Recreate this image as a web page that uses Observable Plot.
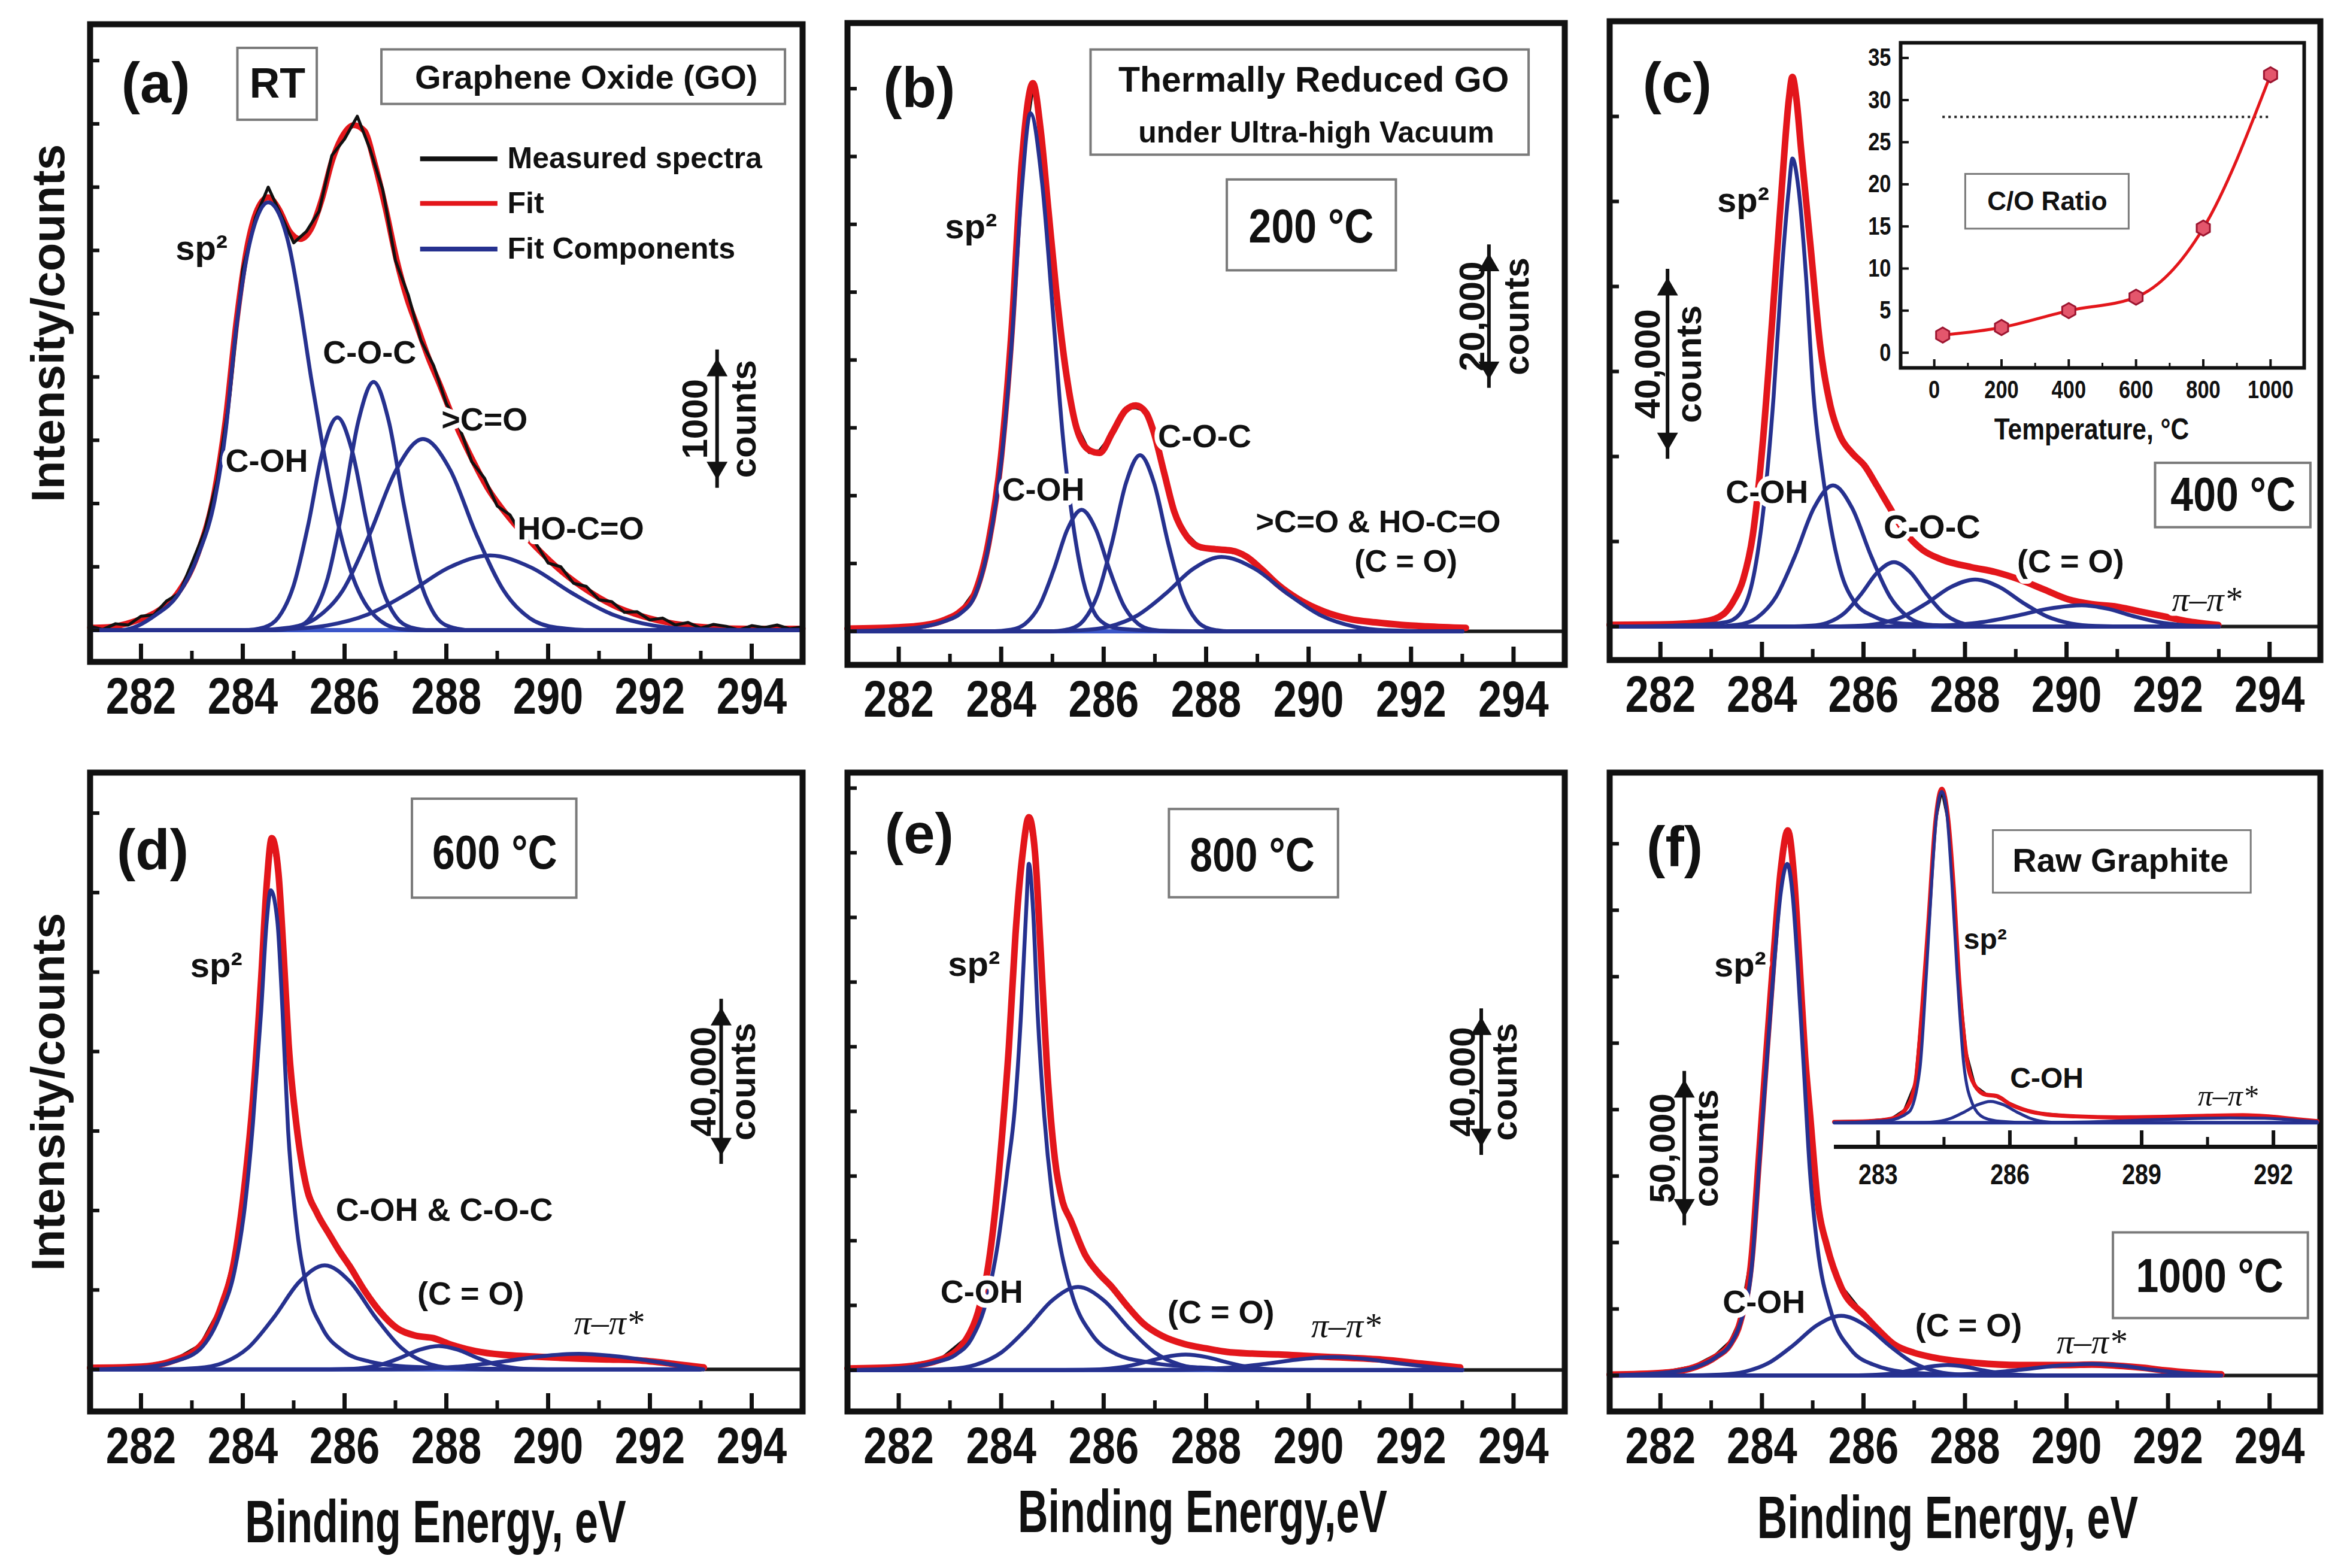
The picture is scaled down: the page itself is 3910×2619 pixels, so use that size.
<!DOCTYPE html>
<html>
<head>
<meta charset="utf-8">
<script src="https://cdn.jsdelivr.net/npm/d3@7"></script>
<script src="https://cdn.jsdelivr.net/npm/@observablehq/plot@0.6"></script>
<style>
  html, body { margin: 0; padding: 0; background: #fff; }
  #fig { position: relative; width: 3910px; height: 2619px; background: #fff; overflow: hidden; }
  #fig svg { position: absolute; }
</style>
</head>
<body>
<div id="fig"></div>
<script>
// ================= shared axis values =================
const eVDomain = [281, 295];
const xMajor = [282, 284, 286, 288, 290, 292, 294];
const xMinor = [283, 285, 287, 289, 291, 293];

// ================= (a) RT – graphene oxide =================
const aYTicks = [0, 500, 1000, 1500, 2000, 2500, 3000, 3500, 4000, 4500];
const aMeasured = [[281,30],[281.25,5],[281.5,50],[281.75,40],[282,110],[282.25,120],[282.5,230],[282.75,290],[283,530],[283.25,780],[283.5,1190],[283.75,1870],[284,2850],[284.25,3260],[284.5,3500],[284.75,3280],[285,3060],[285.25,3150],[285.5,3310],[285.75,3750],[286,3880],[286.25,4060],[286.5,3800],[286.75,3480],[287,2920],[287.25,2650],[287.5,2290],[287.75,2090],[288,1790],[288.25,1610],[288.5,1330],[288.75,1200],[289,980],[289.25,910],[289.5,740],[289.75,690],[290,530],[290.25,500],[290.5,370],[290.75,345],[291,240],[291.25,225],[291.5,140],[291.75,145],[292,80],[292.25,95],[292.5,40],[292.75,60],[293,15],[293.25,45],[293.5,30],[293.75,0],[294,35],[294.25,20],[294.5,40],[294.75,10],[295,25]];
const aFit = [[281,20],[281.35,24],[281.87,70],[282.29,141],[282.71,286],[283.13,620],[283.45,1100],[283.66,1650],[283.87,2420],[284.08,3010],[284.29,3325],[284.5,3420],[284.71,3325],[284.92,3150],[285.13,3090],[285.34,3170],[285.55,3400],[285.76,3715],[285.97,3910],[286.18,3990],[286.39,3945],[286.6,3675],[286.81,3325],[287.02,2930],[287.23,2620],[287.44,2385],[287.65,2150],[287.86,1950],[288.17,1640],[288.49,1365],[288.8,1130],[289.22,895],[289.75,660],[290.27,463],[290.8,306],[291.32,188],[291.85,110],[292.48,51],[293.1,24],[293.95,12],[295,12]];
const aSp2 = [[281,0],[281.6,0],[282.29,120],[282.71,270],[283.13,600],[283.45,1030],[283.66,1560],[283.87,2380],[284.08,2950],[284.29,3270],[284.5,3380],[284.71,3290],[284.92,3020],[285.13,2550],[285.34,2000],[285.55,1500],[285.76,1050],[285.97,680],[286.18,400],[286.39,220],[286.6,110],[286.81,45],[287.07,10],[287.4,0],[295,0]];
const aCOH = [[281,0],[284.02,0],[284.42,22],[284.71,105],[285.0,353],[285.29,840],[285.57,1413],[285.86,1680],[286.15,1413],[286.44,840],[286.72,353],[287.01,105],[287.3,22],[287.7,0],[295,0]];
const aCOC = [[281,0],[284.65,0],[285.07,26],[285.37,123],[285.67,412],[285.97,980],[286.27,1648],[286.57,1960],[286.87,1648],[287.17,980],[287.47,412],[287.77,123],[288.07,26],[288.49,0],[295,0]];
const aCO = [[281,0],[284.18,0],[284.92,20],[285.44,94],[285.97,317],[286.49,755],[287.02,1270],[287.54,1510],[288.07,1270],[288.59,755],[289.12,317],[289.64,94],[290.17,20],[290.9,0],[295,0]];
const aHOCO = [[281,0],[283.74,0],[284.86,8],[285.66,37],[286.46,124],[287.26,295],[288.06,496],[288.86,590],[289.66,496],[290.46,295],[291.26,124],[292.06,37],[292.86,8],[293.98,0],[295,0]];
const aLegend = [{label: "Measured spectra", y: 3724, key: "measured"}, {label: "Fit", y: 3371, key: "fit"}, {label: "Fit Components", y: 3011, key: "comp"}];
const aLabels = [
  {text: "(a)", x: 282.29, y: 4312, size: 94, halo: 0},
  {text: "RT", x: 284.68, y: 4312, size: 70, halo: 0},
  {text: "Graphene Oxide (GO)", x: 290.75, y: 4363, size: 56, halo: 0},
  {text: "sp²", x: 283.19, y: 3011, size: 58},
  {text: "C-OH", x: 284.47, y: 1333, size: 54},
  {text: "C-O-C", x: 286.49, y: 2187, size: 54},
  {text: ">C=O", x: 288.75, y: 1658, size: 54},
  {text: "HO-C=O", x: 290.64, y: 796, size: 54}
];
const aBoxes = [{x1: 283.9, x2: 285.46, y1: 4030, y2: 4598}, {x1: 286.73, x2: 294.66, y1: 4155, y2: 4586}];
const aBar = {x: 293.32, y1: 1188, y2: 2148, value: "1000", valueX: 292.9, unitX: 293.85};

// ================= (b) 200 °C =================
const bYTicks = [0, 10000, 20000, 30000, 40000, 50000, 60000, 70000, 80000];
const bMeasured = [[281,350],[282,650],[282.5,870],[282.9,1750],[283.2,2850],[283.5,6000],[283.75,12800],[284.0,26300],[284.2,43600],[284.4,69400],[284.62,80500],[284.77,74300],[284.92,61800],[285.07,50900],[285.27,37600],[285.47,30300],[285.72,26400],[285.92,26600],[286.17,29000],[286.43,32900],[286.63,33000],[286.83,32500],[286.98,29000],[287.18,23700],[287.38,17300],[287.63,14200],[287.89,12200],[288.19,12300],[288.49,11700],[288.79,11200],[289.09,8900],[289.39,7100],[289.8,4600],[290.3,3050],[290.8,1750],[291.31,1400],[291.81,900],[292.31,780],[293.07,450]];
const bFit = [[281,400],[282,600],[282.5,900],[282.9,1700],[283.2,2900],[283.5,5900],[283.75,13000],[284.0,26000],[284.2,44000],[284.4,69000],[284.62,80800],[284.77,73900],[284.92,62200],[285.07,50500],[285.27,38000],[285.47,30000],[285.72,26700],[285.92,26300],[286.17,29300],[286.43,32600],[286.63,33300],[286.83,32200],[286.98,29300],[287.18,23400],[287.38,17600],[287.63,13900],[287.89,12400],[288.19,12100],[288.49,11900],[288.79,11000],[289.09,9100],[289.39,6950],[289.8,4750],[290.3,2930],[290.8,1830],[291.31,1320],[291.81,950],[292.31,730],[293.07,500]];
const bSp2 = [[281,0],[282,300],[282.5,700],[282.9,1500],[283.2,2600],[283.5,5500],[283.75,12500],[284.0,25000],[284.2,42000],[284.4,65000],[284.57,76400],[284.8,66000],[285.0,48000],[285.2,29000],[285.4,16000],[285.6,7500],[285.8,3000],[286.0,1200],[286.3,400],[287,100],[288,0],[293,0]];
const bCOH = [[281,0],[283.81,0],[284.195,237],[284.47,1120],[284.745,3763],[285.02,8960],[285.295,15070],[285.57,17920],[285.845,15070],[286.12,8960],[286.395,3763],[286.67,1120],[286.945,237],[287.33,0],[293,0]];
const bCOC = [[281,0],[284.95,0],[285.335,343],[285.61,1623],[285.885,5454],[286.16,12985],[286.435,21840],[286.71,25970],[286.985,21840],[287.26,12985],[287.535,5454],[287.81,1623],[288.085,343],[288.47,0],[293,0]];
const bCO = [[281,0],[284.78,0],[285.55,145],[286.1,686],[286.65,2304],[287.2,5485],[287.75,9226],[288.3,10970],[288.95,9226],[289.6,5485],[290.25,2304],[290.9,686],[291.55,145],[292.46,0],[293,0]];
const bLabels = [
  {text: "(b)", x: 282.4, y: 79950, size: 94, halo: 0},
  {text: "Thermally Reduced GO", x: 290.1, y: 81200, size: 59, halo: 0},
  {text: "under Ultra-high Vacuum", x: 290.15, y: 73520, size: 50, halo: 0},
  {text: "200 °C", x: 290.05, y: 59620, size: 80, halo: 0},
  {text: "sp²", x: 283.41, y: 59620, size: 58},
  {text: "C-OH", x: 284.82, y: 20850, size: 54},
  {text: "C-O-C", x: 287.97, y: 28675, size: 54},
  {text: ">C=O & HO-C=O", x: 291.36, y: 16090, size: 52},
  {text: "(C = O)", x: 291.9, y: 10240, size: 52}
];
const bBoxes = [{x1: 285.75, x2: 294.3, y1: 70224, y2: 85730}, {x1: 288.41, x2: 291.71, y1: 53180, y2: 66570}];
const bBar = {x: 293.52, y1: 37100, y2: 55750, value: "20,000", valueX: 293.2, unitX: 294.07};

// ================= (c) 400 °C =================
const cYTicks = [0, 20000, 40000, 60000, 80000, 100000, 120000];
const cMeasured = [[281,350],[282,520],[282.5,680],[282.86,1200],[283.24,2800],[283.43,5900],[283.63,11200],[283.82,21300],[284.01,42800],[284.2,71300],[284.39,103500],[284.53,123600],[284.6,129000],[284.68,124300],[284.77,112000],[284.96,89500],[285.15,65500],[285.35,52100],[285.54,44600],[285.78,41000],[286.02,37600],[286.26,33400],[286.49,28300],[286.8,22700],[287.16,17900],[287.55,15900],[288.12,13800],[288.6,12950],[289.07,10900],[289.55,8850],[290.03,6300],[290.51,5350],[290.99,4550],[291.46,3600],[291.94,2250],[292.42,1250],[292.99,300]];
const cFit = [[281,400],[282,500],[282.5,700],[282.86,1165],[283.24,2900],[283.43,5825],[283.63,11070],[283.82,21550],[284.01,42520],[284.2,71650],[284.39,103100],[284.53,124000],[284.6,129300],[284.68,124000],[284.77,112400],[284.96,89100],[285.15,65800],[285.35,51840],[285.54,44850],[285.78,40770],[286.02,37860],[286.26,33200],[286.49,28540],[286.8,22500],[287.16,18060],[287.55,15730],[288.12,13980],[288.6,12815],[289.07,11070],[289.55,8740],[290.03,6400],[290.51,5240],[290.99,4660],[291.46,3500],[291.94,2330],[292.42,1165],[292.99,350]];
const cSp2 = [[281,0],[282.5,300],[283.0,600],[283.34,1165],[283.63,4080],[283.86,13400],[284.06,30870],[284.23,54170],[284.39,83300],[284.53,103100],[284.6,110100],[284.72,103100],[284.87,82130],[285.01,55340],[285.2,35530],[285.35,23880],[285.54,13400],[285.82,5825],[286.21,2330],[286.68,815],[287.64,230],[289,0],[293,0]];
const cCOH = [[281,0],[283.0,0],[283.525,438],[283.9,2075],[284.275,6972],[284.65,16600],[285.025,27920],[285.4,33200],[285.775,27920],[286.15,16600],[286.525,6972],[286.9,2075],[287.275,438],[287.8,0],[293,0]];
const cCOC = [[281,0],[284.52,0],[284.975,200],[285.3,947],[285.625,3182],[285.95,7575],[286.275,12740],[286.6,15150],[286.925,12740],[287.25,7575],[287.575,3182],[287.9,947],[288.225,200],[288.68,0],[293,0]];
const cCO = [[281,0],[285.16,0],[285.825,146],[286.3,692],[286.775,2325],[287.25,5535],[287.725,9310],[288.2,11070],[288.675,9310],[289.15,5535],[289.625,2325],[290.1,692],[290.575,146],[291.24,0],[293,0]];
const cPi = [[281,0],[286.14,0],[287.05,66],[287.7,313],[288.35,1050],[289.0,2500],[289.65,4205],[290.3,5000],[290.8,4205],[291.3,2500],[291.8,1050],[292.3,313],[292.8,66],[293,0]];
const cLabels = [
  {text: "(c)", x: 282.33, y: 127570, size: 94, halo: 0},
  {text: "sp²", x: 283.63, y: 100190, size: 58},
  {text: "C-OH", x: 284.1, y: 31455, size: 54},
  {text: "C-O-C", x: 287.35, y: 23300, size: 56},
  {text: "(C = O)", x: 290.08, y: 15145, size: 54},
  {text: "π–π*", x: 292.76, y: 6400, size: 58, serif: true},
  {text: "400 °C", x: 293.28, y: 30870, size: 80, halo: 0}
];
const cBoxes = [{x1: 291.75, x2: 294.81, y1: 23300, y2: 38445}];
const cBar = {x: 282.14, y1: 41360, y2: 82130, value: "40,000", valueX: 281.76, unitX: 282.57};

// inset of (c): C/O ratio vs annealing temperature
const coTemp = [25, 200, 400, 600, 800, 1000];
const coRatio = [2.1, 3.0, 5.0, 6.6, 14.8, 33.0];
const graphiteRef = {ratio: 28, from: 25, to: 1000};
const coXMajor = [0, 200, 400, 600, 800, 1000];
const coXMinor = [100, 300, 500, 700, 900];
const coYTicks = [0, 5, 10, 15, 20, 25, 30, 35];
const coBox = {x1: 93, x2: 579, y1: 14.7, y2: 21.2, label: "C/O Ratio", x: 336, y: 17.9};

// ================= (d) 600 °C =================
const dYTicks = [0, 20000, 40000, 60000, 80000, 100000, 120000, 140000];
const dMeasured = [[281,380],[282,720],[282.65,2250],[283.17,6100],[283.58,15800],[283.84,28300],[284.05,47700],[284.2,68300],[284.36,97700],[284.47,122300],[284.57,133400],[284.7,125300],[284.8,104700],[284.9,82300],[285.05,61700],[285.25,46300],[285.46,39000],[285.7,34300],[285.88,29900],[286.1,26200],[286.4,19500],[286.7,14700],[287.02,10300],[287.4,8650],[287.75,7750],[288.1,6300],[288.58,4500],[289.1,3800],[289.63,3200],[290.2,3050],[290.67,2650],[291.2,2550],[291.7,2300],[292.4,1550],[293.06,450]];
const dFit = [[281,400],[282,700],[282.65,2300],[283.17,6000],[283.58,16000],[283.84,28000],[284.05,48000],[284.2,68000],[284.36,98000],[284.47,122000],[284.57,133700],[284.7,125000],[284.8,105000],[284.9,82000],[285.05,62000],[285.25,46000],[285.46,39300],[285.7,34000],[285.88,30150],[286.1,26000],[286.4,19700],[286.7,14500],[287.02,10490],[287.4,8500],[287.75,7870],[288.1,6200],[288.58,4600],[289.1,3700],[289.63,3280],[290.2,2950],[290.67,2700],[291.2,2500],[291.7,2360],[292.4,1500],[293.06,500]];
const dSp2 = [[281,0],[282,500],[282.65,1970],[283.17,5240],[283.58,14420],[283.84,24900],[284.05,42000],[284.2,62000],[284.36,90000],[284.47,112750],[284.55,120600],[284.68,112750],[284.78,90460],[284.89,60300],[285.04,38020],[285.25,20980],[285.56,10490],[285.98,4590],[286.5,1970],[287.33,660],[288.58,260],[290,0],[293,0]];
const dCOH = [[281,0],[282.41,0],[283.11,346],[283.61,1638],[284.11,5502],[284.61,13100],[285.11,22030],[285.61,26200],[286.11,22030],[286.61,13100],[287.11,5502],[287.61,1638],[288.11,346],[288.81,0],[293,0]];
const dCO = [[281,0],[285.45,0],[285.975,78],[286.35,369],[286.725,1239],[287.1,2950],[287.475,4962],[287.85,5900],[288.225,4962],[288.6,2950],[288.975,1239],[289.35,369],[289.725,78],[290.25,0],[293,0]];
const dPi = [[281,0],[285.8,0],[286.85,52],[287.6,246],[288.35,825],[289.1,1965],[289.85,3305],[290.6,3930],[291.35,3305],[292.1,1965],[292.6,900],[293.05,0]];
const dLabels = [
  {text: "(d)", x: 282.23, y: 130440, size: 94, halo: 0},
  {text: "600 °C", x: 288.95, y: 129800, size: 80, halo: 0},
  {text: "sp²", x: 283.48, y: 101600, size: 58},
  {text: "C-OH & C-O-C", x: 287.96, y: 40000, size: 54},
  {text: "(C = O)", x: 288.48, y: 19000, size: 54},
  {text: "π–π*", x: 291.19, y: 11800, size: 58, serif: true}
];
const dBoxes = [{x1: 287.33, x2: 290.56, y1: 118650, y2: 143550}];
const dBar = {x: 293.4, y1: 53750, y2: 91100, value: "40,000", valueX: 293.06, unitX: 293.84};

// ================= (e) 800 °C =================
const eYTicks = [0, 20000, 40000, 60000, 80000, 100000, 120000, 140000, 160000, 180000];
const eMeasured = [[281,480],[282,920],[282.81,3150],[283.32,9800],[283.55,17800],[283.73,30700],[283.9,51700],[284.03,75300],[284.15,99700],[284.28,135200],[284.42,159700],[284.54,170700],[284.66,160300],[284.77,129700],[284.89,95000],[285.05,64700],[285.2,52300],[285.35,46300],[285.65,35600],[285.9,29800],[286.16,25900],[286.45,19800],[286.77,14600],[287.15,10300],[287.58,8150],[288.0,6600],[288.4,5700],[288.9,5000],[289.41,4900],[289.9,4300],[290.43,4100],[290.9,3600],[291.44,3300],[292.2,1950],[292.96,850]];
const eFit = [[281,500],[282,900],[282.81,3210],[283.32,9640],[283.55,18000],[283.73,30500],[283.9,52000],[284.03,75000],[284.15,100000],[284.28,134900],[284.42,160000],[284.54,171000],[284.66,160000],[284.77,130000],[284.89,94750],[285.05,65000],[285.2,52000],[285.35,46600],[285.65,35330],[285.9,30000],[286.16,25700],[286.45,20000],[286.77,14450],[287.15,10500],[287.58,8030],[288.0,6700],[288.4,5620],[288.9,5100],[289.41,4820],[289.9,4400],[290.43,4015],[290.9,3700],[291.44,3210],[292.2,2000],[292.96,800]];
const eSp2 = [[281,0],[282,600],[282.71,2400],[283.12,4820],[283.42,9640],[283.73,22480],[283.93,38540],[284.13,62630],[284.26,80000],[284.39,110800],[284.49,142900],[284.54,156600],[284.62,142900],[284.71,110800],[284.84,78700],[284.99,54600],[285.15,38540],[285.4,22480],[285.76,11240],[286.26,4820],[286.87,2400],[287.89,800],[289.5,0],[293,0]];
const eCOH = [[281,0],[282.3,0],[283.0,339],[283.5,1606],[284.0,5397],[284.5,12850],[285.0,21610],[285.5,25700],[286.0,21610],[286.5,12850],[287.0,5397],[287.5,1606],[288.0,339],[288.7,0],[293,0]];
const eCO = [[281,0],[285.04,0],[285.6,63],[286.0,300],[286.4,1008],[286.8,2400],[287.2,4037],[287.6,4800],[288.0,4037],[288.4,2400],[288.8,1008],[289.2,300],[289.6,63],[290.16,0],[293,0]];
const ePi = [[281,0],[286.34,0],[287.25,53],[287.9,250],[288.55,840],[289.2,2000],[289.85,3364],[290.5,4000],[291.15,3364],[291.8,2000],[292.45,840],[293,0]];
const eLabels = [
  {text: "(e)", x: 282.4, y: 165400, size: 94, halo: 0},
  {text: "800 °C", x: 288.9, y: 159000, size: 80, halo: 0},
  {text: "sp²", x: 283.47, y: 125270, size: 58},
  {text: "C-OH", x: 283.62, y: 24090, size: 54},
  {text: "(C = O)", x: 288.29, y: 17670, size: 54},
  {text: "π–π*", x: 290.73, y: 13650, size: 58, serif: true}
];
const eBoxes = [{x1: 287.28, x2: 290.58, y1: 146150, y2: 173450}];
const eBar = {x: 293.37, y1: 69060, y2: 109200, value: "40,000", valueX: 293.02, unitX: 293.83};

// ================= (f) 1000 °C =================
const fYTicks = [0, 25000, 50000, 75000, 100000, 125000, 150000, 175000, 200000];
const fMeasured = [[281,350],[282.05,1150],[282.66,3300],[283.09,7600],[283.38,12700],[283.57,20600],[283.8,45300],[283.94,81700],[284.09,122300],[284.23,157700],[284.37,190300],[284.51,204700],[284.63,188300],[284.74,154700],[284.85,120300],[284.95,97300],[285.1,65300],[285.28,48500],[285.56,33500],[286.03,22200],[286.3,17200],[286.6,11600],[287.0,8600],[287.36,6750],[288.12,4950],[289.07,3850],[290.02,3950],[290.5,4050],[290.97,3750],[291.5,2850],[291.92,2000],[292.5,950],[293.05,450]];
const fFit = [[281,300],[282.05,1000],[282.66,3000],[283.09,7000],[283.38,12000],[283.57,20000],[283.8,45000],[283.94,82000],[284.09,122000],[284.23,158000],[284.37,190000],[284.51,205000],[284.63,188000],[284.74,155000],[284.85,120000],[284.95,97650],[285.1,65000],[285.28,48800],[285.56,33200],[286.03,22460],[286.3,17000],[286.6,11720],[287.0,8500],[287.36,6840],[288.12,4880],[289.07,3900],[290.02,3900],[290.5,4100],[290.97,3700],[291.5,2900],[291.92,1950],[292.5,1000],[293.05,400]];
const fSp2 = [[281,0],[282.05,980],[282.66,2930],[283.09,6840],[283.38,11720],[283.57,19530],[283.8,41000],[283.94,78100],[284.09,117200],[284.23,152300],[284.37,181600],[284.5,192400],[284.61,179700],[284.71,152300],[284.82,117200],[284.94,78100],[285.09,48800],[285.37,23440],[285.75,9765],[286.22,3900],[286.98,980],[288.5,0],[293,0]];
const fCOH = [[281,0],[282.52,0],[283.185,296],[283.66,1404],[284.135,4717],[284.61,11230],[285.085,18890],[285.56,22460],[286.035,18890],[286.51,11230],[286.985,4717],[287.46,1404],[287.935,296],[288.6,0],[293,0]];
const fCO = [[281,0],[285.41,0],[285.9,51],[286.25,244],[286.6,819],[286.95,1950],[287.3,3280],[287.65,3900],[288.0,3280],[288.35,1950],[288.7,819],[289.05,244],[289.4,51],[289.89,0],[293,0]];
const fPi = [[281,0],[286.02,0],[287.0,57],[287.7,269],[288.4,903],[289.1,2150],[289.8,3616],[290.5,4300],[291.1,3616],[291.7,2150],[292.3,903],[293.05,0]];
const fLabels = [
  {text: "(f)", x: 282.28, y: 198230, size: 94, halo: 0},
  {text: "sp²", x: 283.57, y: 154300, size: 58},
  {text: "C-OH", x: 284.04, y: 27340, size: 54},
  {text: "(C = O)", x: 288.07, y: 18550, size: 54},
  {text: "π–π*", x: 290.49, y: 12700, size: 58, serif: true},
  {text: "1000 °C", x: 292.82, y: 37100, size: 80, halo: 0}
];
const fBoxes = [{x1: 290.92, x2: 294.76, y1: 21480, y2: 53700}];
const fBar = {x: 282.47, y1: 59570, y2: 111300, value: "50,000", valueX: 282.05, unitX: 282.9};

// inset of (f): raw graphite
const gDomain = [282, 293];
const gMajor = [283, 286, 289, 292];
const gMinor = [284.5, 287.5, 290.5];
const gMeasured = [[282,4],[282.8,7],[283.3,14],[283.6,47],[283.85,148],[284.0,425],[284.15,755],[284.3,1125],[284.45,1248],[284.6,1127],[284.72,884],[284.85,516],[285.0,263],[285.2,138],[285.45,107],[285.7,98],[286.0,72],[286.4,44],[286.8,33],[287.5,23],[288.5,21],[289.5,21],[290.5,27],[291.3,27],[292.0,23],[292.6,11],[293.0,7]];
const gFit = [[282,3],[282.8,6],[283.3,15],[283.6,45],[283.85,150],[284.0,420],[284.15,760],[284.3,1120],[284.45,1250],[284.6,1130],[284.72,880],[284.85,520],[285.0,260],[285.2,140],[285.45,105],[285.7,100],[286.0,70],[286.4,45],[286.8,32],[287.5,24],[288.5,20],[289.5,22],[290.5,26],[291.3,28],[292.0,22],[292.6,12],[293.0,6]];
const gSp2 = [[282,0],[283.2,8],[283.7,40],[283.95,200],[284.1,560],[284.22,900],[284.33,1150],[284.45,1240],[284.57,1150],[284.68,900],[284.8,560],[284.95,220],[285.15,70],[285.4,20],[285.8,5],[286.5,0],[293,0]];
const gCOH = [[282,0],[283.64,0],[284.06,1],[284.36,5],[284.66,17],[284.96,40],[285.26,67],[285.56,80],[285.86,67],[286.16,40],[286.46,17],[286.76,5],[287.06,1],[287.48,0],[293,0]];
const gPi = [[282,0],[286.5,0],[288.0,4],[289.0,10],[290.0,15],[291.0,18],[291.8,17],[292.5,10],[293.0,4]];
const gLabels = [
  {text: "Raw Graphite", x: 288.52, y: 980, size: 56, halo: 0},
  {text: "sp²", x: 285.44, y: 685, size: 48},
  {text: "C-OH", x: 286.84, y: 165, size: 48},
  {text: "π–π*", x: 290.96, y: 100, size: 50, serif: true}
];
const gBoxes = [{x1: 285.62, x2: 291.49, y1: 860, y2: 1094}];

// ================= styling =================
const RED = "#e3161b", NAVY = "#26318f", BASEBLUE = "#3b56c9", INK = "#111111", BOXGRAY = "#7a7a7a";
const SANS = "'Liberation Sans', Arial, Helvetica, sans-serif";
const SERIF = "'Liberation Serif', 'Times New Roman', serif";
const fig = document.getElementById("fig");

function curveLine(data, stroke, width, extra = {}) {
  return Plot.line(data, {x: d => d[0], y: d => d[1], stroke, strokeWidth: width, curve: "monotone-x",
    strokeLinejoin: "round", strokeLinecap: "round", ...extra});
}
function labelMarks(labels) {
  return labels.map(l => {
    const o = {x: "x", y: "y", text: "text", fontSize: l.size, fill: INK, lineAnchor: "middle", textAnchor: "middle",
      fontWeight: l.serif ? "normal" : "bold", fontFamily: l.serif ? SERIF : SANS, fontStyle: l.serif ? "italic" : "normal"};
    if (l.halo !== 0) { o.stroke = "white"; o.strokeWidth = l.halo || 16; o.paintOrder = "stroke"; }
    return Plot.text([l], o);
  });
}
function boxMarks(boxes, w = 4) {
  return [Plot.rect(boxes, {x1: "x1", x2: "x2", y1: "y1", y2: "y2", fill: "white", stroke: BOXGRAY, strokeWidth: w})];
}
function narrow(svg, map) {
  svg.querySelectorAll("text").forEach(t => {
    const s = map.get(t.textContent);
    const tr = t.getAttribute("transform") || "";
    if (s && !/rotate/.test(tr)) t.setAttribute("transform", tr + ` scale(${s},1)`);
  });
}
const MAIN_SX = new Map([
  ...xMajor.map(v => [String(v), 0.82]),
  ["Binding Energy, eV", 0.7], ["Binding Energy,eV", 0.7],
  ["200 °C", 0.85], ["400 °C", 0.85], ["600 °C", 0.85], ["800 °C", 0.85], ["1000 °C", 0.85]
]);
function place(svg, left, top) {
  svg.style.left = left + "px";
  svg.style.top = top + "px";
  fig.appendChild(svg);
}

function drawPanel(p) {
  const [L, T, R, B] = p.frame;
  const W = R - L, H = B - T;
  const M = {l: 160, r: 16, t: 16, b: 260};
  const marks = [];
  marks.push(Plot.ruleY([0], {stroke: "#1a1a1a", strokeWidth: 6}));
  marks.push(Plot.ruleY([0], {x1: 281, x2: p.baseEnd, stroke: BASEBLUE, strokeWidth: 7}));
  if (!p.measuredOnTop) marks.push(curveLine(p.measured, INK, 6, {curve: "linear"}));
  marks.push(curveLine(p.fit, RED, p.fitWidth || 11));
  if (p.measuredOnTop) marks.push(curveLine(p.measured, INK, 5, {curve: "linear"}));
  for (const c of p.components) marks.push(curveLine(c, NAVY, 6.5));
  if (p.legend) {
    const lx1 = 287.49, lx2 = 289.01, tx = 289.2;
    const col = {measured: INK, fit: RED, comp: NAVY};
    for (const it of p.legend) {
      marks.push(Plot.ruleY([it], {y: "y", x1: lx1, x2: lx2, stroke: col[it.key], strokeWidth: 8}));
      marks.push(Plot.text([it], {x: tx, y: "y", text: "label", textAnchor: "start", lineAnchor: "middle",
        fontSize: 50, fontWeight: "bold", fill: INK}));
    }
  }
  marks.push(...boxMarks(p.boxes));
  marks.push(...labelMarks(p.labels));
  // scale bar (double arrow): shaft + filled heads whose tips sit on the ends
  const b = p.bar, mid = (b.y1 + b.y2) / 2;
  marks.push(Plot.ruleX([b], {x: "x", y1: "y1", y2: "y2", stroke: INK, strokeWidth: 6, insetTop: 14, insetBottom: 14}));
  marks.push(Plot.dot([b], {x: "x", y: "y2", symbol: "triangle", r: 13, fill: INK, stroke: "none", dy: 20}));
  marks.push(Plot.dot([b], {x: "x", y: "y1", symbol: "triangle", r: 13, fill: INK, stroke: "none", rotate: 180, dy: -20}));
  marks.push(Plot.text([b], {x: "valueX", y: () => mid, text: "value", rotate: -90, fontSize: 60, fontWeight: "bold", fill: INK, lineAnchor: "middle", textAnchor: "middle"}));
  marks.push(Plot.text([b], {x: "unitX", y: () => mid, text: () => "counts", rotate: -90, fontSize: 60, fontWeight: "bold", fill: INK, lineAnchor: "middle", textAnchor: "middle"}));
  // ticks (inward) + frame
  marks.push(Plot.ruleX(xMajor, {x: d => d, insetTop: H - 30, stroke: INK, strokeWidth: 7}));
  marks.push(Plot.ruleX(xMinor, {x: d => d, insetTop: H - 18, stroke: INK, strokeWidth: 6}));
  marks.push(Plot.ruleY(p.yTicks, {y: d => d, insetRight: W - 16, stroke: INK, strokeWidth: 6}));
  marks.push(Plot.frame({stroke: INK, strokeWidth: 10}));
  marks.push(Plot.text(xMajor, {x: d => d, text: d => String(d), frameAnchor: "bottom", dy: 59, lineAnchor: "middle",
    textAnchor: "middle", fontSize: 86, fontWeight: "bold", fill: INK}));
  if (p.yTitle) marks.push(Plot.text(["Intensity/counts"], {frameAnchor: "left", dx: -68, dy: p.yTitleDy, rotate: -90,
    lineAnchor: "middle", textAnchor: "middle", fontSize: 78, fontWeight: "bold", fill: INK}));
  if (p.xTitle) marks.push(Plot.text([p.xTitle], {frameAnchor: "bottom", dx: p.xTitleDx, dy: p.xTitleDy, lineAnchor: "middle",
    textAnchor: "middle", fontSize: 100, fontWeight: "bold", fill: INK}));
  const svg = Plot.plot({
    width: W + M.l + M.r, height: H + M.t + M.b,
    marginLeft: M.l, marginRight: M.r, marginTop: M.t, marginBottom: M.b,
    x: {domain: eVDomain, axis: null}, y: {domain: p.y, axis: null},
    style: {background: "transparent", overflow: "visible", fontFamily: SANS, maxWidth: "none"},
    marks
  });
  narrow(svg, MAIN_SX);
  place(svg, L - M.l, T - M.t);
}

const panels = [
  {frame: [150, 40, 1340, 1105], y: [-251, 4787], yTicks: aYTicks, baseEnd: 295, measured: aMeasured, measuredOnTop: true,
   fit: aFit, fitWidth: 10, components: [aSp2, aCOH, aCOC, aCO, aHOCO], labels: aLabels, boxes: aBoxes, bar: aBar,
   legend: aLegend, yTitle: true, yTitleDy: -33},
  {frame: [1415, 38, 2613, 1110], y: [-4943, 89674], yTicks: bYTicks, baseEnd: 293, measured: bMeasured,
   fit: bFit, components: [bSp2, bCOH, bCOC, bCO], labels: bLabels, boxes: bBoxes, bar: bBar},
  {frame: [2688, 35, 3875, 1102], y: [-7887, 142394], yTicks: cYTicks, baseEnd: 293, measured: cMeasured,
   fit: cFit, components: [cSp2, cCOH, cCOC, cCO, cPi], labels: cLabels, boxes: cBoxes, bar: cBar},
  {frame: [150, 1290, 1340, 2357], y: [-10566, 150189], yTicks: dYTicks, baseEnd: 293, measured: dMeasured,
   fit: dFit, components: [dSp2, dCOH, dCO, dPi], labels: dLabels, boxes: dBoxes, bar: dBar,
   yTitle: true, yTitleDy: 0, xTitle: "Binding Energy, eV", xTitleDx: -18, xTitleDy: 186},
  {frame: [1415, 1290, 2613, 2357], y: [-12801, 184787], yTicks: eYTicks, baseEnd: 293, measured: eMeasured,
   fit: eFit, components: [eSp2, eCOH, eCO, ePi], labels: eLabels, boxes: eBoxes, bar: eBar,
   xTitle: "Binding Energy,eV", xTitleDx: -6, xTitleDy: 169},
  {frame: [2688, 1290, 3875, 2357], y: [-13538, 226760], yTicks: fYTicks, baseEnd: 293, measured: fMeasured,
   fit: fFit, components: [fSp2, fCOH, fCO, fPi], labels: fLabels, boxes: fBoxes, bar: fBar,
   xTitle: "Binding Energy, eV", xTitleDx: -29, xTitleDy: 179}
];
panels.forEach(drawPanel);

// ---------- inset (c): C/O ratio ----------
(function () {
  const [L, T, R, B] = [3174, 71, 3848, 614];
  const W = R - L, H = B - T;
  const M = {l: 90, r: 12, t: 12, b: 140};
  const co = coTemp.map((t, i) => ({temp: t, ratio: coRatio[i]}));
  const svg = Plot.plot({
    width: W + M.l + M.r, height: H + M.t + M.b,
    marginLeft: M.l, marginRight: M.r, marginTop: M.t, marginBottom: M.b,
    x: {domain: [-100, 1100], axis: null}, y: {domain: [-1.8, 36.8], axis: null},
    style: {background: "transparent", overflow: "visible", fontFamily: SANS, maxWidth: "none"},
    marks: [
      Plot.ruleY([graphiteRef], {y: "ratio", x1: "from", x2: "to", stroke: "#222", strokeWidth: 4, strokeDasharray: "4,6"}),
      Plot.line(co, {x: "temp", y: "ratio", curve: "monotone-x", stroke: RED, strokeWidth: 5}),
      Plot.dot(co, {x: "temp", y: "ratio", symbol: "hexagon", r: 11, fill: "#e4566c", stroke: "#9c1530", strokeWidth: 3}),
      Plot.rect([coBox], {x1: "x1", x2: "x2", y1: "y1", y2: "y2", fill: "white", stroke: BOXGRAY, strokeWidth: 3}),
      Plot.text([coBox], {x: "x", y: "y", text: "label", fontSize: 44, fontWeight: "bold", fill: INK, lineAnchor: "middle"}),
      Plot.ruleX(coXMajor, {x: d => d, insetTop: H - 14, stroke: INK, strokeWidth: 4}),
      Plot.ruleX(coXMinor, {x: d => d, insetTop: H - 8, stroke: INK, strokeWidth: 3}),
      Plot.ruleY(coYTicks, {y: d => d, insetRight: W - 14, stroke: INK, strokeWidth: 4}),
      Plot.frame({stroke: INK, strokeWidth: 6}),
      Plot.text(coYTicks, {y: d => d, text: d => String(d), frameAnchor: "left", dx: -16, textAnchor: "end", lineAnchor: "middle",
        fontSize: 42, fontWeight: "bold", fill: INK}),
      Plot.text(coXMajor, {x: d => d, text: d => String(d), frameAnchor: "bottom", dy: 37, lineAnchor: "middle",
        textAnchor: "middle", fontSize: 42, fontWeight: "bold", fill: INK}),
      Plot.text(["Temperature, °C"], {frameAnchor: "bottom", dx: -18, dy: 103, lineAnchor: "middle",
        textAnchor: "middle", fontSize: 50, fontWeight: "bold", fill: INK})
    ]
  });
  narrow(svg, new Map([...coYTicks.map(v => [String(v), 0.82]), ...coXMajor.map(v => [String(v), 0.82]), ["Temperature, °C", 0.85]]));
  place(svg, L - M.l, T - M.t);
})();

// ---------- inset (f): raw graphite ----------
(function () {
  const [L, T, R, B] = [3063, 1300, 3870, 1915];
  const W = R - L, H = B - T;
  const M = {l: 12, r: 12, t: 12, b: 100};
  const svg = Plot.plot({
    width: W + M.l + M.r, height: H + M.t + M.b,
    marginLeft: M.l, marginRight: M.r, marginTop: M.t, marginBottom: M.b,
    x: {domain: gDomain, axis: null}, y: {domain: [-90, 1288], axis: null},
    style: {background: "transparent", overflow: "visible", fontFamily: SANS, maxWidth: "none"},
    marks: [
      Plot.ruleY([0], {x1: 282, x2: 293, stroke: BASEBLUE, strokeWidth: 6}),
      curveLine(gMeasured, INK, 5, {curve: "linear"}),
      curveLine(gFit, RED, 7),
      curveLine(gSp2, NAVY, 5),
      curveLine(gCOH, NAVY, 5),
      curveLine(gPi, NAVY, 5),
      ...boxMarks(gBoxes, 3),
      ...labelMarks(gLabels),
      Plot.ruleY([-90], {stroke: INK, strokeWidth: 7}),
      Plot.ruleX(gMajor, {x: d => d, insetTop: H - 27, stroke: INK, strokeWidth: 6}),
      Plot.ruleX(gMinor, {x: d => d, insetTop: H - 16, stroke: INK, strokeWidth: 5}),
      Plot.text(gMajor, {x: d => d, text: d => String(d), frameAnchor: "bottom", dy: 47, lineAnchor: "middle",
        textAnchor: "middle", fontSize: 48, fontWeight: "bold", fill: INK})
    ]
  });
  narrow(svg, new Map(gMajor.map(v => [String(v), 0.82])));
  place(svg, L - M.l, T - M.t);
})();
</script>
</body>
</html>
